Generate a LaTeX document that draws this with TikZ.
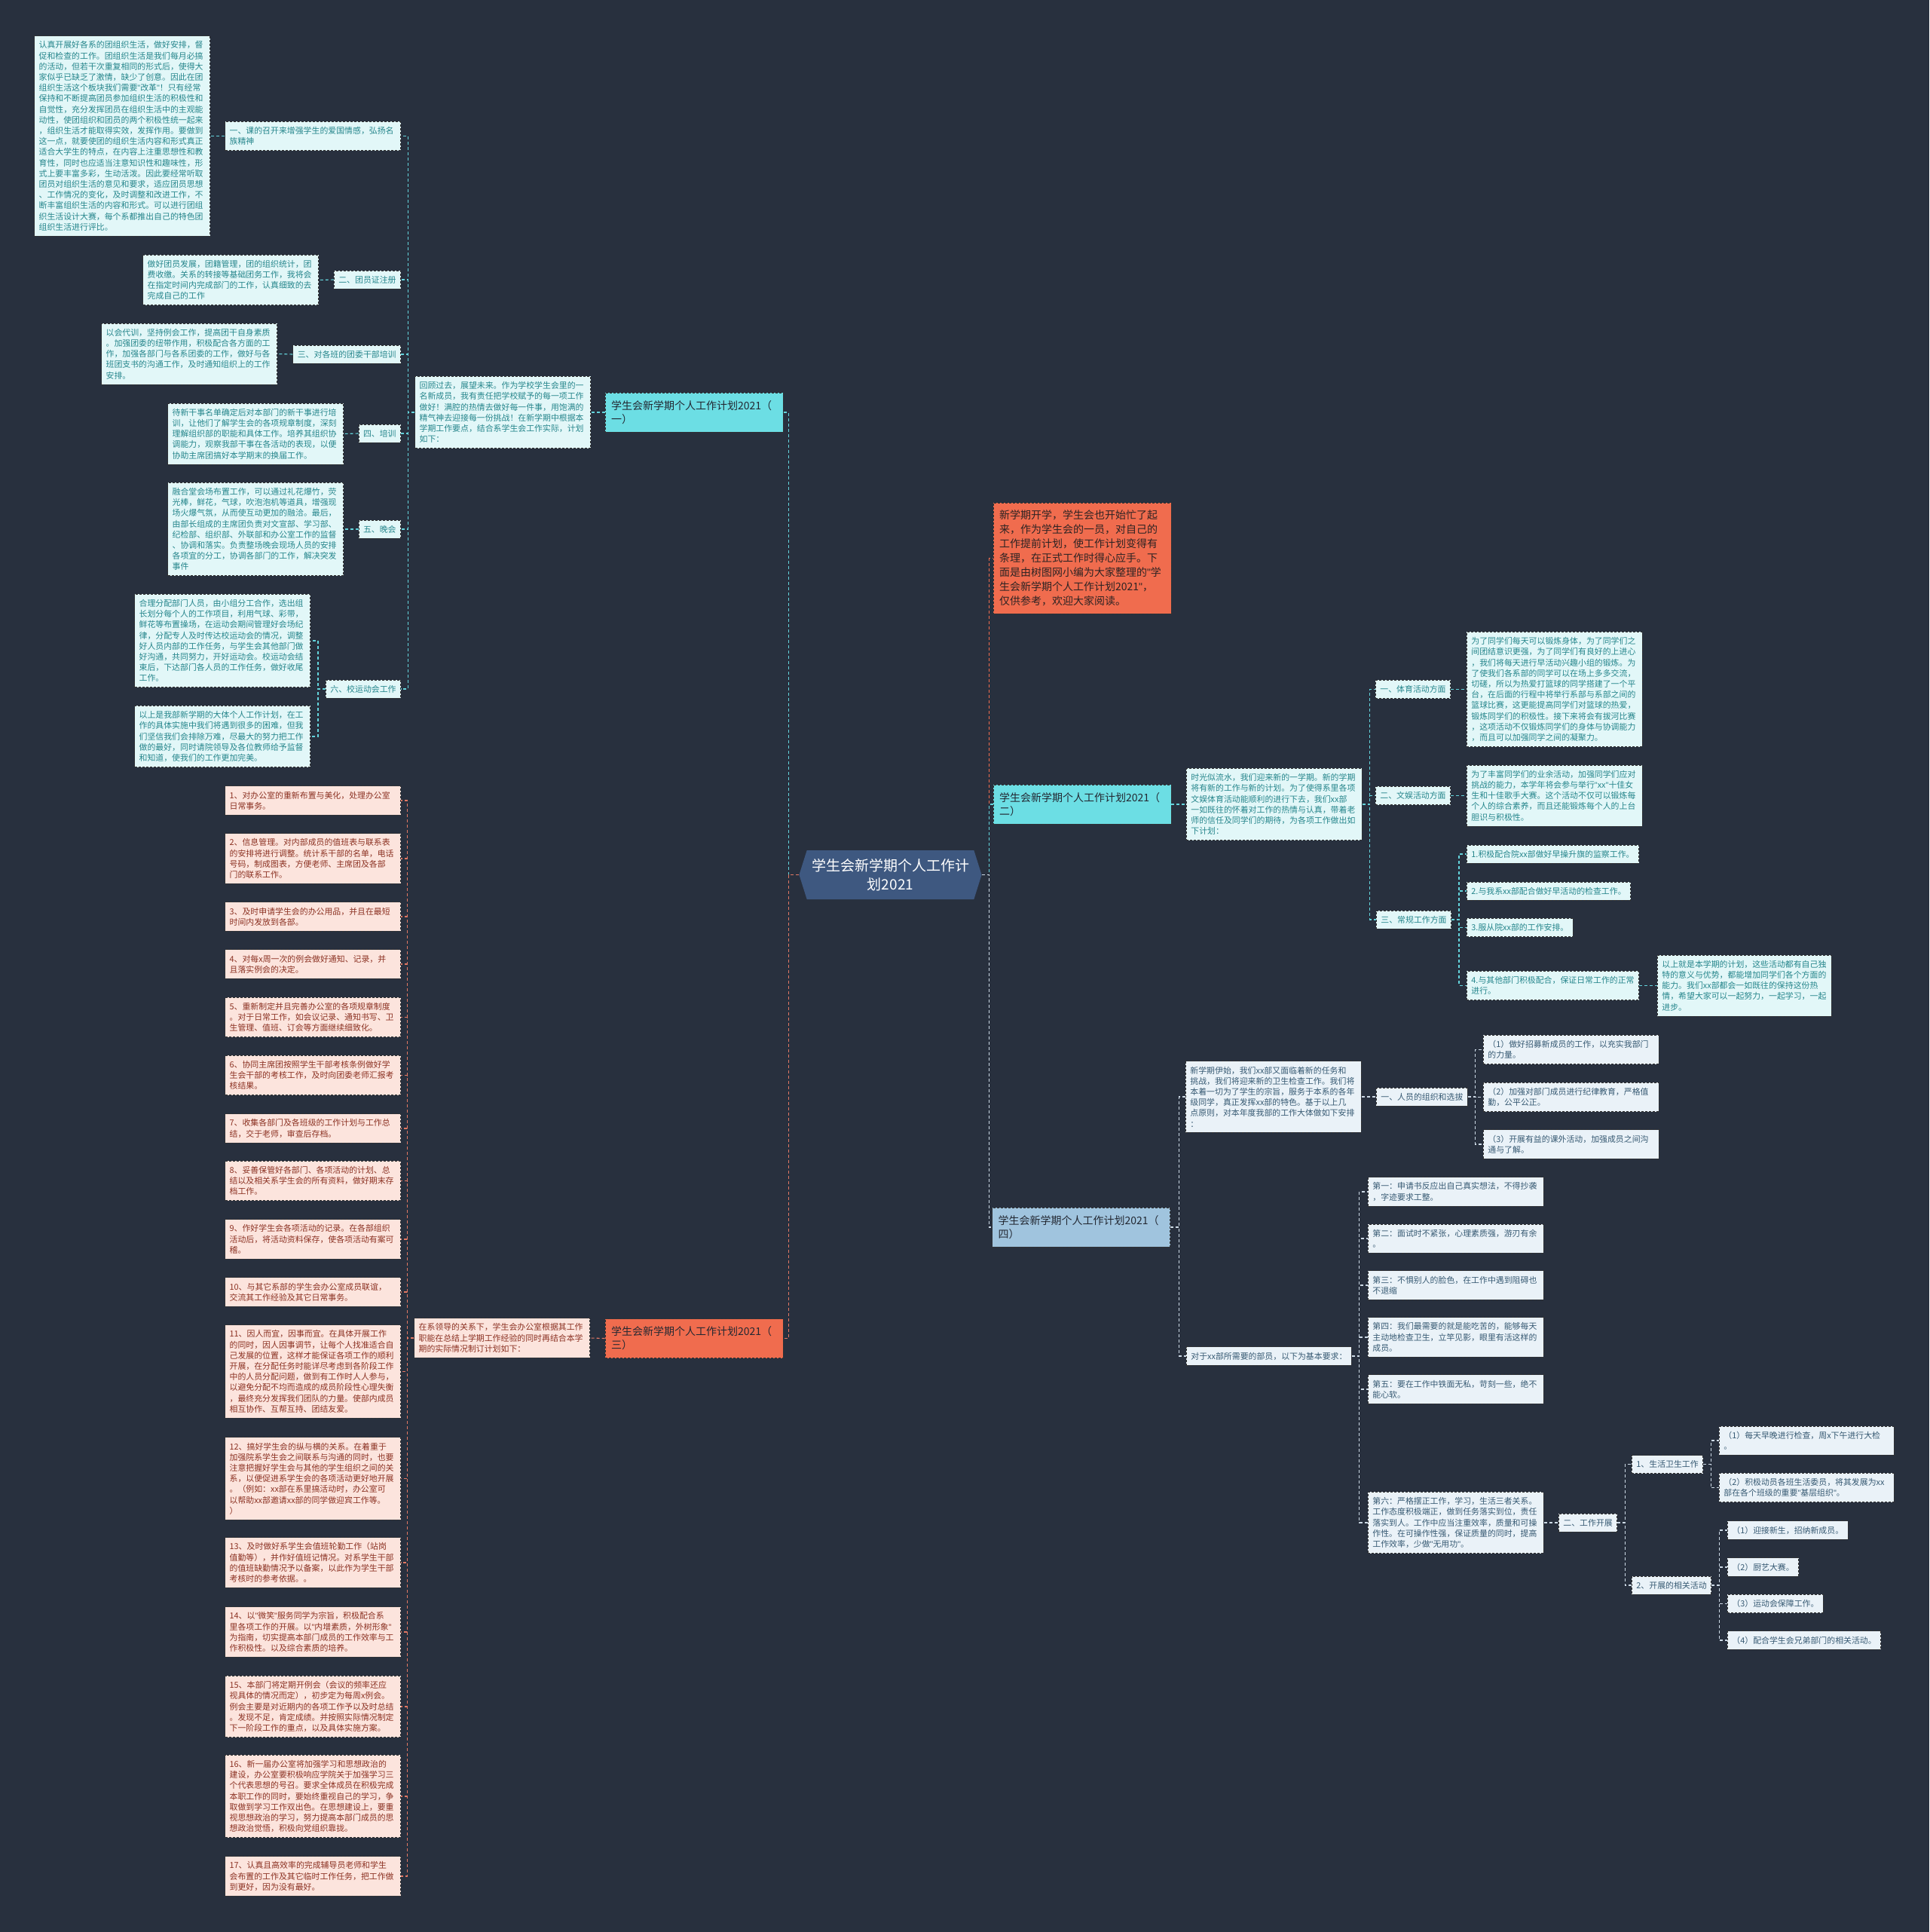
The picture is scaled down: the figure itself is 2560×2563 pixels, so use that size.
\documentclass[tikz,border=0pt]{standalone}
\usepackage{fontspec}
\setmainfont{Noto Sans CJK SC}
\newfontfamily\qfont{Liberation Sans}
\usetikzlibrary{shapes.symbols}
\definecolor{bgcol}{RGB}{40,48,62}
\definecolor{tealfill}{RGB}{226,247,248}
\definecolor{tealtext}{RGB}{38,134,140}
\definecolor{pinkfill}{RGB}{252,228,221}
\definecolor{pinktext}{RGB}{140,50,35}
\definecolor{bluefill}{RGB}{234,242,248}
\definecolor{bluetext}{RGB}{55,90,115}
\definecolor{cyannode}{RGB}{108,222,228}
\definecolor{rednode}{RGB}{240,108,78}
\definecolor{bluenode}{RGB}{160,196,222}
\definecolor{rootcol}{RGB}{62,88,128}
\definecolor{tealline}{RGB}{100,212,220}
\definecolor{pinkline}{RGB}{225,120,100}
\definecolor{blueline}{RGB}{205,218,230}
\definecolor{boxline}{RGB}{50,50,50}
\definecolor{nodetext}{RGB}{35,40,50}
\newcommand\fsz[2]{\fontsize{#1pt}{#2pt}\selectfont}
\newcommand\qq{{\qfont"}}

\begin{document}
\begin{tikzpicture}[x=1pt,y=-1pt,
  box/.style={draw=boxline, dash pattern=on 3pt off 2pt, line width=0.8pt,
    inner xsep=6pt, inner ysep=7pt, font=\fsz{10.9}{14.2}, align=left},
  tealbox/.style={box, fill=tealfill, text=tealtext},
  pinkbox/.style={box, fill=pinkfill, text=pinktext},
  bluebox/.style={box, fill=bluefill, text=bluetext},
  wide/.style={text width=221pt},
  branch/.style={draw=boxline, dash pattern=on 3pt off 2pt, line width=0.8pt,
    minimum width=236pt, minimum height=52pt, text width=220pt,
    inner xsep=8pt, inner ysep=10pt, font=\fsz{14}{18}, align=left, text=nodetext},
  link/.style={line width=1.1pt, dash pattern=on 4pt off 3pt},
  ]

\useasboundingbox (0,0) rectangle (2560,2563);
\fill[bgcol] (0,0) rectangle (2560,2563);

%root
\node[shape=signal, signal to=west and east, signal pointer angle=145,
  fill=rootcol, text=white, minimum width=237pt, minimum height=65pt,
  text width=215pt, align=center, font=\fsz{19}{25}] (root) at (1181.5,1160.5)
  {学生会新学期个人工作计\\划2021};

%%branch (一)
\node[branch, fill=cyannode] (b1) at (921,547) {学生会新学期个人工作计划2021（\\一）};
\node[tealbox, wide, anchor=east] (b1c) at (784,547)
  {回顾过去，展望未来。作为学校学生会里的一\\名新成员，我有责任把学校赋予的每一项工作\\做好！满腔的热情去做好每一件事，用饱满的\\精气神去迎接每一份挑战！在新学期中根据本\\学期工作要点，结合系学生会工作实际，计划\\如下：};
\draw[link, tealline] (b1.west) -- (b1c.east);

%labels
\node[tealbox, wide, anchor=east] (l1) at (532,180.5) {一、课的召开来增强学生的爱国情感，弘扬名\\族精神};
\node[tealbox, anchor=east] (l2) at (532,371) {二、团员证注册};
\node[tealbox, anchor=east] (l3) at (532,470) {三、对各班的团委干部培训};
\node[tealbox, anchor=east] (l4) at (532,575) {四、培训};
\node[tealbox, anchor=east] (l5) at (532,702) {五、晚会};
\node[tealbox, anchor=east] (l6) at (532,914) {六、校运动会工作};
\foreach \i in {1,...,6}{
  \draw[link, tealline] (b1c.west) -- ++(-9,0) |- (l\i.east);
}

%texts
\node[tealbox, wide, anchor=east] (t1) at (279,180.5)
  {认真开展好各系的团组织生活，做好安排，督\\促和检查的工作。团组织生活是我们每月必搞\\的活动，但若干次重复相同的形式后，使得大\\家似乎已缺乏了激情，缺少了创意。因此在团\\组织生活这个板块我们需要\qq 改革\qq ！只有经常\\保持和不断提高团员参加组织生活的积极性和\\自觉性，充分发挥团员在组织生活中的主观能\\动性，使团组织和团员的两个积极性统一起来\\，组织生活才能取得实效，发挥作用。要做到\\这一点，就要使团的组织生活内容和形式真正\\适合大学生的特点，在内容上注重思想性和教\\育性，同时也应适当注意知识性和趣味性，形\\式上要丰富多彩，生动活泼。因此要经常听取\\团员对组织生活的意见和要求，适应团员思想\\、工作情况的变化，及时调整和改进工作，不\\断丰富组织生活的内容和形式。可以进行团组\\织生活设计大赛，每个系都推出自己的特色团\\组织生活进行评比。};
\node[tealbox, wide, anchor=east] (t2) at (423,371.5)
  {做好团员发展，团籍管理，团的组织统计，团\\费收缴。关系的转接等基础团务工作，我将会\\在指定时间内完成部门的工作，认真细致的去\\完成自己的工作};
\node[tealbox, wide, anchor=east] (t3) at (368,469.5)
  {以会代训，坚持例会工作，提高团干自身素质\\。加强团委的纽带作用，积极配合各方面的工\\作，加强各部门与各系团委的工作，做好与各\\班团支书的沟通工作，及时通知组织上的工作\\安排。};
\node[tealbox, wide, anchor=east] (t4) at (456,575.5)
  {待新干事名单确定后对本部门的新干事进行培\\训，让他们了解学生会的各项规章制度，深刻\\理解组织部的职能和具体工作。培养其组织协\\调能力，观察我部干事在各活动的表现，以便\\协助主席团搞好本学期末的换届工作。};
\node[tealbox, wide, anchor=east] (t5) at (456,702)
  {融合堂会场布置工作，可以通过礼花爆竹，荧\\光棒，鲜花，气球，吹泡泡机等道具，增强现\\场火爆气氛，从而使互动更加的融洽。最后，\\由部长组成的主席团负责对文宣部、学习部、\\纪检部、组织部、外联部和办公室工作的监督\\、协调和落实。负责整场晚会现场人员的安排\\各项宜的分工，协调各部门的工作，解决突发\\事件};
\foreach \i in {1,...,5}{
  \draw[link, tealline] (l\i.west) -- (t\i.east);
}
\node[tealbox, wide, anchor=east] (t6a) at (412,850)
  {合理分配部门人员，由小组分工合作，选出组\\长划分每个人的工作项目，利用气球、彩带，\\鲜花等布置操场，在运动会期间管理好会场纪\\律，分配专人及时传达校运动会的情况，调整\\好人员内部的工作任务，与学生会其他部门做\\好沟通，共同努力，开好运动会。校运动会结\\束后，下达部门各人员的工作任务，做好收尾\\工作。};
\node[tealbox, wide, anchor=east] (t6b) at (412,977)
  {以上是我部新学期的大体个人工作计划，在工\\作的具体实施中我们将遇到很多的困难，但我\\们坚信我们会排除万难，尽最大的努力把工作\\做的最好，同时请院领导及各位教师给予监督\\和知道，使我们的工作更加完美。};
\draw[link, tealline] (l6.west) -- ++(-10,0) |- (t6a.east);
\draw[link, tealline] (l6.west) -- ++(-10,0) |- (t6b.east);

%%branch (三)
\node[branch, fill=rednode] (b3) at (921,1775.5) {学生会新学期个人工作计划2021（\\三）};
\node[pinkbox, wide, anchor=east] (b3c) at (783,1775)
  {在系领导的关系下，学生会办公室根据其工作\\职能在总结上学期工作经验的同时再结合本学\\期的实际情况制订计划如下：};
\draw[link, pinkline] (b3.west) -- (b3c.east);
\foreach \yc/\txt [count=\i] in {
  1062/{1、对办公室的重新布置与美化，处理办公室\\日常事务。},
  1139/{2、信息管理。对内部成员的值班表与联系表\\的安排将进行调整。统计系干部的名单，电话\\号码，制成图表，方便老师、主席团及各部\\门的联系工作。},
  1216/{3、及时申请学生会的办公用品，并且在最短\\时间内发放到各部。},
  1279/{4、对每x周一次的例会做好通知、记录，并\\且落实例会的决定。},
  1349.5/{5、重新制定并且完善办公室的各项规章制度\\。对于日常工作，如会议记录、通知书写、卫\\生管理、值班、订会等方面继续细致化。},
  1426.5/{6、协同主席团按照学生干部考核条例做好学\\生会干部的考核工作，及时向团委老师汇报考\\核结果。},
  1497/{7、收集各部门及各班级的工作计划与工作总\\结，交于老师，审查后存档。},
  1566.5/{8、妥善保管好各部门、各项活动的计划、总\\结以及相关系学生会的所有资料，做好期末存\\档工作。},
  1644/{9、作好学生会各项活动的记录。在各部组织\\活动后，将活动资料保存，使各项活动有案可\\稽。},
  1714/{10、与其它系部的学生会办公室成员联谊，\\交流其工作经验及其它日常事务。},
  1819.5/{11、因人而宜，因事而宜。在具体开展工作\\的同时，因人因事调节，让每个人找准适合自\\己发展的位置，这样才能保证各项工作的顺利\\开展，在分配任务时能详尽考虑到各阶段工作\\中的人员分配问题，做到有工作时人人参与，\\以避免分配不均而造成的成员阶段性心理失衡\\，最终充分发挥我们团队的力量。使部内成员\\相互协作、互帮互持、团结友爱。},
  1961.5/{12、搞好学生会的纵与横的关系。在着重于\\加强院系学生会之间联系与沟通的同时，也要\\注意把握好学生会与其他的学生组织之间的关\\系，以便促进系学生会的各项活动更好地开展\\。（例如：xx部在系里搞活动时，办公室可\\以帮助xx部邀请xx部的同学做迎宾工作等。\\）},
  2073/{13、及时做好系学生会值班轮勤工作（站岗\\值勤等），并作好值班记情况。对系学生干部\\的值班缺勤情况予以备案，以此作为学生干部\\考核时的参考依据。。},
  2165/{14、以\qq 微笑\qq 服务同学为宗旨，积极配合系\\里各项工作的开展。以\qq 内增素质，外树形象\qq \\为指南，切实提高本部门成员的工作效率与工\\作积极性。以及综合素质的培养。},
  2264/{15、本部门将定期开例会（会议的频率还应\\视具体的情况而定），初步定为每周x例会。\\例会主要是对近期内的各项工作予以及时总结\\。发现不足，肯定成绩。并按照实际情况制定\\下一阶段工作的重点，以及具体实施方案。},
  2383/{16、新一届办公室将加强学习和思想政治的\\建设，办公室要积极响应学院关于加强学习三\\个代表思想的号召。要求全体成员在积极完成\\本职工作的同时，要始终重视自己的学习，争\\取做到学习工作双出色。在思想建设上，要重\\视思想政治的学习，努力提高本部门成员的思\\想政治觉悟，积极向党组织靠拢。},
  2489/{17、认真且高效率的完成辅导员老师和学生\\会布置的工作及其它临时工作任务，把工作做\\到更好，因为没有最好。}}{
  \node[pinkbox, wide, anchor=east] (p\i) at (532,\yc) {\txt};
  \draw[link, pinkline] (b3c.west) -- ++(-9,0) |- (p\i.east);
}

%root links, left
\draw[link, tealline] (root.west) -- ++(-14,0) |- (b1.east);
\draw[link, pinkline] (root.west) -- ++(-14,0) |- (b3.east);

%%intro
\node[branch, fill=rednode, minimum height=147pt, font=\fsz{14}{18.9}, text={rgb,255:red,45;green,35;blue,35}] (intro) at (1436,740.5)
  {新学期开学，学生会也开始忙了起\\来，作为学生会的一员，对自己的\\工作提前计划，使工作计划变得有\\条理，在正式工作时得心应手。下\\面是由树图网小编为大家整理的\qq 学\\生会新学期个人工作计划2021\qq ，\\仅供参考，欢迎大家阅读。};

%%branch (二)
\node[branch, fill=cyannode] (b2) at (1436,1067) {学生会新学期个人工作计划2021（\\二）};
\node[tealbox, wide, anchor=west] (b2c) at (1574,1067)
  {时光似流水，我们迎来新的一学期。新的学期\\将有新的工作与新的计划。为了使得系里各项\\文娱体育活动能顺利的进行下去，我们xx部\\一如既往的怀着对工作的热情与认真，带着老\\师的信任及同学们的期待，为各项工作做出如\\下计划：};
\draw[link, tealline] (b2.east) -- (b2c.west);
\node[tealbox, anchor=west] (s1) at (1825,914.5) {一、体育活动方面};
\node[tealbox, anchor=west] (s2) at (1825,1055.5) {二、文娱活动方面};
\node[tealbox, anchor=west] (s3) at (1826,1220) {三、常规工作方面};
\foreach \i in {1,2,3}{
  \draw[link, tealline] (b2c.east) -- ++(10,0) |- (s\i.west);
}
\node[tealbox, wide, anchor=west] (d1) at (1946,914.5)
  {为了同学们每天可以锻炼身体，为了同学们之\\间团结意识更强，为了同学们有良好的上进心\\，我们将每天进行早活动兴趣小组的锻炼。为\\了使我们各系部的同学可以在场上多多交流，\\切磋，所以为热爱打篮球的同学搭建了一个平\\台，在后面的行程中将举行系部与系部之间的\\篮球比赛，这更能提高同学们对篮球的热爱，\\锻炼同学们的积极性。接下来将会有拔河比赛\\，这项活动不仅锻炼同学们的身体与协调能力\\，而且可以加强同学之间的凝聚力。};
\node[tealbox, wide, anchor=west] (d2) at (1946,1055.5)
  {为了丰富同学们的业余活动，加强同学们应对\\挑战的能力，本学年将会参与举行\qq xx\qq 十佳女\\生和十佳歌手大赛。这个活动不仅可以锻炼每\\个人的综合素养，而且还能锻炼每个人的上台\\胆识与积极性。};
\draw[link, tealline] (s1.east) -- (d1.west);
\draw[link, tealline] (s2.east) -- (d2.west);
\foreach \yc/\txt [count=\i] in {
  1133/{1.积极配合院xx部做好早操升旗的监察工作。},
  1182/{2.与我系xx部配合做好早活动的检查工作。},
  1230.5/{3.服从院xx部的工作安排。},
  1307.5/{4.与其他部门积极配合，保证日常工作的正常\\进行。}}{
  \node[tealbox, anchor=west] (c\i) at (1946,\yc) {\txt};
  \draw[link, tealline] (s3.east) -- ++(10,0) |- (c\i.west);
}
\node[tealbox, text width=219pt, anchor=west] (c4d) at (2199,1307.5)
  {以上就是本学期的计划，这些活动都有自己独\\特的意义与优势，都能增加同学们各个方面的\\能力。我们xx部都会一如既往的保持这份热\\情，希望大家可以一起努力，一起学习，一起\\进步。};
\draw[link, tealline] (c4.east) -- (c4d.west);

%%branch (四)
\node[branch, fill=bluenode] (b4) at (1434.5,1628) {学生会新学期个人工作计划2021（\\四）};
\node[bluebox, wide, anchor=west] (b4c) at (1573,1455)
  {新学期伊始，我们xx部又面临着新的任务和\\挑战，我们将迎来新的卫生检查工作。我们将\\本着一切为了学生的宗旨，服务于本系的各年\\级同学，真正发挥xx部的特色。基于以上几\\点原则，对本年度我部的工作大体做如下安排\\：};
\node[bluebox, anchor=west] (b4r) at (1574,1799) {对于xx部所需要的部员，以下为基本要求：};
\draw[link, blueline] (b4.east) -- ++(12,0) |- (b4c.west);
\draw[link, blueline] (b4.east) -- ++(12,0) |- (b4r.west);

\node[bluebox, anchor=west] (r0) at (1826,1455) {一、人员的组织和选拔};
\draw[link, blueline] (b4c.east) -- (r0.west);
\foreach \yc/\txt [count=\i] in {
  1392.5/{（1）做好招募新成员的工作，以充实我部门\\的力量。},
  1455.5/{（2）加强对部门成员进行纪律教育，严格值\\勤，公平公正。},
  1518/{（3）开展有益的课外活动，加强成员之间沟\\通与了解。}}{
  \node[bluebox, wide, anchor=west] (r\i) at (1968,\yc) {\txt};
  \draw[link, blueline] (r0.east) -- ++(10,0) |- (r\i.west);
}

\foreach \yc/\txt [count=\i] in {
  1581/{第一：申请书反应出自己真实想法，不得抄袭\\，字迹要求工整。},
  1643/{第二：面试时不紧张，心理素质强，游刃有余\\。},
  1705/{第三：不惧别人的脸色，在工作中遇到阻碍也\\不退缩},
  1774/{第四：我们最需要的就是能吃苦的，能够每天\\主动地检查卫生，立竿见影，眼里有活这样的\\成员。},
  1843/{第五：要在工作中铁面无私，苛刻一些，绝不\\能心软。},
  2020/{第六：严格摆正工作，学习，生活三者关系。\\工作态度积极端正，做到任务落实到位，责任\\落实到人。工作中应当注重效率，质量和可操\\作性。在可操作性强，保证质量的同时，提高\\工作效率，少做\qq 无用功\qq 。}}{
  \node[bluebox, wide, anchor=west] (f\i) at (1815,\yc) {\txt};
  \draw[link, blueline] (b4r.east) -- ++(10,0) |- (f\i.west);
}

\node[bluebox, anchor=west] (w0) at (2068,2020) {二、工作开展};
\draw[link, blueline] (f6.east) -- (w0.west);
\node[bluebox, anchor=west] (w1) at (2165,1942.5) {1、生活卫生工作};
\node[bluebox, anchor=west] (w2) at (2165,2103) {2、开展的相关活动};
\draw[link, blueline] (w0.east) -- ++(10,0) |- (w1.west);
\draw[link, blueline] (w0.east) -- ++(10,0) |- (w2.west);
\node[bluebox, text width=220pt, anchor=west] (w11) at (2281,1911)
  {（1）每天早晚进行检查，周x下午进行大检\\。};
\node[bluebox, text width=220pt, anchor=west] (w12) at (2281,1973.5)
  {（2）积极动员各班生活委员，将其发展为xx\\部在各个班级的重要\qq 基层组织\qq 。};
\draw[link, blueline] (w1.east) -- ++(10,0) |- (w11.west);
\draw[link, blueline] (w1.east) -- ++(10,0) |- (w12.west);
\foreach \yc/\txt [count=\i] in {
  2030/{（1）迎接新生，招纳新成员。},
  2079/{（2）厨艺大赛。},
  2127.5/{（3）运动会保障工作。},
  2176/{（4）配合学生会兄弟部门的相关活动。}}{
  \node[bluebox, anchor=west] (w2\i) at (2292,\yc) {\txt};
  \draw[link, blueline] (w2.east) -- ++(10,0) |- (w2\i.west);
}

%root links, right
\draw[link, rednode] (root.east) -- ++(10,0) |- (intro.west);
\draw[link, tealline] (root.east) -- ++(10,0) |- (b2.west);
\draw[link, blueline] (root.east) -- ++(10,0) |- (b4.west);

\end{tikzpicture}
\end{document}
